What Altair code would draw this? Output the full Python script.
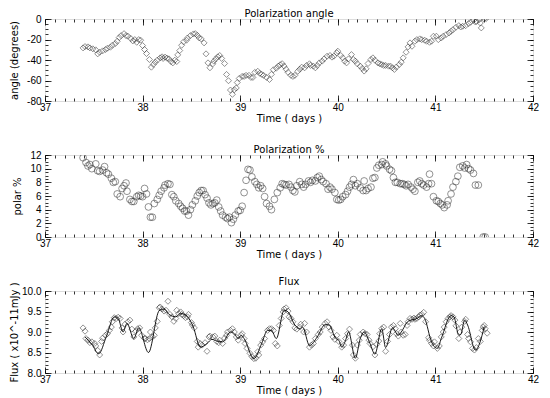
import altair as alt
import pandas as pd

FONT = "DejaVu Sans"
W, H = 488, 82

angle_t = [37.39, 37.41, 37.44, 37.46, 37.49, 37.52, 37.54, 37.56, 37.59, 37.62, 37.64, 37.67, 37.69, 37.72,
           37.74, 37.76, 37.78, 37.81, 37.83, 37.85, 37.88, 37.90, 37.92, 37.94, 37.96, 37.98, 38.00, 38.02,
           38.04, 38.07, 38.09, 38.11, 38.13, 38.15, 38.18, 38.20, 38.21, 38.23, 38.25, 38.27, 38.29, 38.31,
           38.33, 38.35, 38.36, 38.38, 38.40, 38.42, 38.45, 38.46, 38.49, 38.52, 38.54, 38.56, 38.58, 38.60,
           38.63, 38.65, 38.67, 38.69, 38.72, 38.73, 38.75, 38.77, 38.79, 38.81, 38.84, 38.86, 38.88, 38.90,
           38.92, 38.94, 38.96, 38.97, 38.99, 39.02, 39.04, 39.06, 39.09, 39.11, 39.13, 39.15, 39.18, 39.20,
           39.22, 39.24, 39.27, 39.30, 39.32, 39.34, 39.37, 39.39, 39.41, 39.43, 39.45, 39.47, 39.49, 39.52,
           39.54, 39.56, 39.59, 39.61, 39.63, 39.66, 39.68, 39.71, 39.72, 39.75, 39.77, 39.79, 39.81, 39.84,
           39.86, 39.89, 39.92, 39.94, 39.96, 39.99, 40.00, 40.03, 40.05, 40.07, 40.09, 40.11, 40.14, 40.16,
           40.18, 40.20, 40.23, 40.25, 40.27, 40.29, 40.31, 40.34, 40.36, 40.38, 40.41, 40.43, 40.45, 40.47,
           40.49, 40.52, 40.54, 40.56, 40.58, 40.60, 40.63, 40.65, 40.67, 40.70, 40.72, 40.74, 40.76, 40.79,
           40.81, 40.84, 40.86, 40.89, 40.91, 40.94, 40.96, 40.98, 41.01, 41.03, 41.06, 41.08, 41.11, 41.14,
           41.16, 41.18, 41.21, 41.24, 41.26, 41.28, 41.31, 41.34, 41.36, 41.39, 41.41, 41.42, 41.45, 41.46,
           41.47, 41.50, 41.52]
angle_v = [-28.2, -26.9, -27.2, -28.2, -29.1, -30.1, -34.0, -32.4, -31.1, -29.8, -28.5, -27.5, -25.6, -24.0,
           -21.7, -18.1, -16.2, -14.3, -16.2, -16.8, -19.1, -21.4, -20.1, -22.7, -20.1, -20.7, -25.9, -29.8,
           -33.7, -39.5, -47.0, -44.4, -42.1, -40.2, -37.9, -36.9, -38.5, -37.2, -38.2, -38.9, -41.5, -42.8,
           -40.2, -41.5, -35.0, -30.8, -25.6, -22.3, -20.7, -18.5, -16.2, -14.6, -14.3, -15.9, -18.5, -19.4,
           -23.3, -34.0, -42.8, -47.6, -43.7, -41.1, -38.9, -36.9, -35.6, -38.5, -43.4, -54.1, -60.2, -69.3,
           -73.5, -69.0, -67.3, -62.0, -58.0, -56.0, -56.0, -55.0, -55.0, -57.0, -57.0, -52.0, -51.0, -53.0,
           -54.0, -55.0, -57.0, -59.0, -54.0, -49.5, -48.0, -46.0, -44.6, -43.6, -46.0, -49.0, -52.0, -55.0,
           -56.0, -55.0, -51.0, -49.0, -47.0, -47.6, -45.3, -43.7, -45.3, -46.0, -47.6, -45.3, -42.8, -41.1,
           -38.9, -36.3, -35.6, -37.2, -36.3, -33.0, -31.4, -35.6, -37.9, -41.1, -42.8, -38.9, -34.7, -39.5,
           -41.1, -43.7, -46.0, -48.3, -50.8, -48.6, -43.4, -39.5, -37.9, -40.2, -42.8, -43.7, -44.4, -45.3,
           -45.3, -46.0, -46.0, -47.6, -49.2, -46.9, -44.4, -42.1, -37.9, -32.4, -27.2, -23.3, -26.6, -21.7,
           -20.1, -19.4, -20.1, -20.7, -21.7, -22.7, -21.7, -16.8, -16.8, -20.1, -18.5, -16.8, -15.2, -13.6,
           -12.0, -10.4, -8.1, -6.5, -7.8, -7.1, -6.5, -4.5, -3.2, -1.3, -2.9, -2.3, -0.6, -3.9,
           -8.7, 0.0, 0.5]

pol_t = [37.39, 37.42, 37.44, 37.46, 37.48, 37.52, 37.54, 37.56, 37.59, 37.61, 37.63, 37.65, 37.68, 37.70,
         37.72, 37.74, 37.77, 37.79, 37.81, 37.83, 37.84, 37.87, 37.89, 37.91, 37.94, 37.96, 37.98, 38.00,
         38.02, 38.04, 38.06, 38.08, 38.10, 38.12, 38.15, 38.17, 38.19, 38.22, 38.23, 38.26, 38.28, 38.30,
         38.32, 38.34, 38.37, 38.39, 38.41, 38.43, 38.45, 38.47, 38.49, 38.51, 38.54, 38.56, 38.58, 38.60,
         38.62, 38.64, 38.66, 38.68, 38.70, 38.72, 38.74, 38.76, 38.78, 38.80, 38.82, 38.85, 38.87, 38.89,
         38.91, 38.93, 38.95, 38.98, 39.00, 39.02, 39.04, 39.06, 39.08, 39.10, 39.12, 39.15, 39.17, 39.19,
         39.21, 39.23, 39.25, 39.27, 39.30, 39.32, 39.35, 39.38, 39.41, 39.43, 39.45, 39.47, 39.50, 39.52,
         39.54, 39.56, 39.58, 39.61, 39.63, 39.65, 39.67, 39.70, 39.72, 39.74, 39.77, 39.79, 39.81, 39.83,
         39.85, 39.88, 39.90, 39.92, 39.94, 39.97, 39.99, 40.01, 40.03, 40.05, 40.08, 40.10, 40.12, 40.14,
         40.16, 40.18, 40.20, 40.23, 40.26, 40.27, 40.29, 40.31, 40.34, 40.36, 40.38, 40.40, 40.42, 40.45,
         40.46, 40.49, 40.50, 40.53, 40.55, 40.57, 40.59, 40.61, 40.64, 40.66, 40.68, 40.70, 40.72, 40.75,
         40.77, 40.79, 40.82, 40.84, 40.86, 40.88, 40.91, 40.93, 40.94, 40.96, 40.98, 41.01, 41.03, 41.05,
         41.07, 41.09, 41.12, 41.13, 41.16, 41.18, 41.21, 41.23, 41.25, 41.28, 41.30, 41.32, 41.34, 41.36,
         41.39, 41.41, 41.44, 41.49, 41.51]
pol_v = [11.6, 10.9, 10.4, 10.6, 10.0, 10.7, 9.7, 9.6, 9.8, 10.3, 9.4, 9.2, 8.6, 8.0,
         8.1, 6.3, 5.9, 7.1, 7.5, 7.9, 6.7, 5.5, 5.2, 5.2, 5.9, 6.1, 6.0, 5.9,
         7.1, 6.3, 4.4, 2.9, 2.9, 4.9, 5.5, 6.1, 6.7, 7.2, 7.6, 7.8, 7.7, 6.2,
         5.9, 5.3, 4.9, 4.5, 4.2, 3.8, 3.8, 3.2, 4.0, 4.7, 5.3, 6.0, 6.5, 6.8,
         6.8, 6.2, 5.7, 5.0, 4.7, 4.9, 5.0, 5.4, 4.4, 3.8, 3.2, 2.9, 2.7, 2.9,
         2.1, 2.6, 3.2, 3.8, 3.9, 4.5, 6.5, 8.3, 9.9, 9.8, 8.8, 8.1, 7.7, 7.2,
         7.5, 7.1, 5.9, 4.9, 4.5, 4.0, 5.5, 6.5, 7.2, 7.8, 7.7, 7.6, 7.7, 7.3,
         6.8, 6.6, 7.5, 8.1, 7.7, 7.3, 7.7, 8.2, 8.0, 8.3, 8.2, 8.7, 8.9, 8.4,
         8.1, 7.8, 7.0, 7.3, 7.0, 6.5, 5.5, 5.4, 5.5, 5.9, 6.2, 6.7, 7.3, 7.7,
         8.4, 7.5, 7.8, 7.2, 6.8, 8.2, 6.8, 7.1, 7.3, 8.6, 8.7, 10.1, 10.5, 10.6,
         11.0, 10.7, 10.4, 9.9, 9.7, 8.7, 8.0, 8.0, 7.8, 7.8, 7.7, 7.5, 7.7, 7.3,
         7.0, 6.7, 8.0, 8.2, 7.8, 7.6, 7.3, 7.8, 9.2, 7.8, 5.9, 5.3, 5.2, 4.9,
         4.7, 4.3, 4.7, 5.3, 6.3, 7.3, 8.1, 8.9, 10.2, 10.4, 10.1, 10.6, 10.0, 9.8,
         9.3, 7.6, 7.6, 0.0, 0.0]

flux_t = [37.39, 37.41, 37.42, 37.44, 37.46, 37.48, 37.51, 37.52, 37.54, 37.56, 37.58, 37.59, 37.62, 37.64,
          37.66, 37.68, 37.69, 37.71, 37.73, 37.75, 37.77, 37.79, 37.80, 37.82, 37.85, 37.87, 37.89, 37.91,
          37.93, 37.95, 37.97, 37.99, 38.02, 38.03, 38.05, 38.07, 38.08, 38.10, 38.12, 38.13, 38.15, 38.17,
          38.18, 38.20, 38.22, 38.24, 38.26, 38.28, 38.30, 38.32, 38.34, 38.35, 38.37, 38.39, 38.40, 38.42,
          38.44, 38.46, 38.47, 38.50, 38.51, 38.53, 38.56, 38.57, 38.59, 38.61, 38.64, 38.66, 38.68, 38.69,
          38.72, 38.74, 38.76, 38.78, 38.79, 38.82, 38.84, 38.86, 38.87, 38.90, 38.92, 38.94, 38.96, 38.98,
          39.01, 39.02, 39.04, 39.05, 39.07, 39.10, 39.12, 39.14, 39.16, 39.18, 39.19, 39.21, 39.23, 39.25,
          39.28, 39.30, 39.32, 39.34, 39.36, 39.38, 39.40, 39.42, 39.44, 39.45, 39.47, 39.49, 39.50, 39.52,
          39.54, 39.56, 39.58, 39.61, 39.62, 39.65, 39.66, 39.68, 39.71, 39.73, 39.75, 39.77, 39.80, 39.82,
          39.84, 39.87, 39.89, 39.91, 39.93, 39.95, 39.97, 39.99, 40.01, 40.04, 40.06, 40.08, 40.10, 40.12,
          40.15, 40.16, 40.18, 40.20, 40.22, 40.23, 40.26, 40.28, 40.30, 40.32, 40.33, 40.36, 40.38, 40.40,
          40.42, 40.43, 40.45, 40.47, 40.49, 40.51, 40.53, 40.55, 40.57, 40.59, 40.60, 40.62, 40.64, 40.65,
          40.67, 40.69, 40.71, 40.72, 40.74, 40.76, 40.78, 40.79, 40.81, 40.83, 40.84, 40.86, 40.88, 40.90,
          40.93, 40.94, 40.96, 40.98, 40.99, 41.02, 41.04, 41.06, 41.08, 41.09, 41.11, 41.13, 41.15, 41.16,
          41.18, 41.20, 41.21, 41.24, 41.25, 41.27, 41.30, 41.31, 41.33, 41.34, 41.36, 41.38, 41.40, 41.42,
          41.44, 41.46, 41.48, 41.49, 41.50, 41.51, 41.53]
flux_v = [9.10, 9.02, 8.84, 8.80, 8.74, 8.76, 8.72, 8.66, 8.55, 8.44, 8.77, 8.85, 8.92, 8.96,
          9.04, 9.12, 9.25, 9.35, 9.33, 9.36, 9.33, 9.10, 9.00, 9.19, 9.25, 9.29, 9.07, 8.88,
          9.02, 9.08, 9.10, 8.92, 8.84, 8.84, 8.81, 8.84, 9.00, 8.88, 8.92, 9.10, 9.26, 9.59,
          9.61, 9.56, 9.51, 9.53, 9.75, 9.43, 9.37, 9.26, 9.33, 9.53, 9.45, 9.49, 9.43, 9.40,
          9.35, 9.37, 9.43, 9.23, 9.17, 9.10, 8.77, 8.63, 8.72, 8.68, 8.74, 8.53, 8.88, 8.90,
          8.88, 8.90, 8.77, 8.74, 8.80, 8.72, 8.85, 8.92, 9.00, 9.04, 9.08, 9.00, 8.88, 8.80,
          8.92, 8.96, 8.84, 8.72, 8.60, 8.48, 8.40, 8.35, 8.36, 8.52, 8.44, 8.68, 8.76, 8.84,
          9.04, 9.08, 9.08, 9.04, 8.72, 8.66, 9.16, 9.33, 9.49, 9.56, 9.59, 9.51, 9.37, 9.33,
          9.25, 9.10, 9.07, 9.12, 9.19, 9.00, 9.21, 9.00, 8.63, 8.68, 8.72, 8.84, 8.94, 9.00,
          9.12, 9.21, 9.25, 9.12, 9.04, 8.88, 8.82, 8.92, 8.77, 8.63, 8.68, 8.84, 8.96, 9.07,
          8.68, 8.44, 8.36, 8.68, 8.80, 8.94, 9.00, 8.96, 8.94, 8.80, 8.72, 8.64, 8.44, 8.70,
          8.78, 8.96, 9.08, 9.12, 8.53, 8.77, 8.94, 9.12, 9.16, 9.08, 8.96, 8.90, 9.21, 9.00,
          8.92, 8.94, 9.16, 9.25, 9.33, 9.31, 9.34, 9.31, 9.33, 9.37, 9.41, 9.43, 9.48, 9.25,
          8.86, 8.80, 8.72, 8.66, 8.76, 8.60, 8.66, 8.88, 9.00, 9.12, 9.25, 9.33, 9.37, 9.40,
          9.37, 9.29, 9.15, 8.84, 9.00, 9.12, 9.26, 9.31, 8.94, 8.84, 8.76, 8.60, 8.56, 8.62,
          8.84, 8.77, 9.04, 9.12, 9.16, 9.08, 8.97]

fit_t = [37.41, 37.48, 37.55, 37.63, 37.71, 37.75, 37.80, 37.84, 37.91, 37.96, 38.06, 38.17, 38.22, 38.27,
         38.34, 38.39, 38.46, 38.52, 38.59, 38.66, 38.71, 38.76, 38.82, 38.90, 38.94, 38.98, 39.01, 39.04,
         39.14, 39.22, 39.28, 39.32, 39.37, 39.45, 39.49, 39.56, 39.61, 39.64, 39.71, 39.79, 39.87, 39.91,
         39.98, 40.01, 40.04, 40.08, 40.11, 40.18, 40.23, 40.27, 40.33, 40.38, 40.45, 40.49, 40.56, 40.62,
         40.65, 40.72, 40.81, 40.86, 40.89, 40.96, 41.02, 41.06, 41.16, 41.19, 41.24, 41.26, 41.30, 41.33,
         41.41, 41.50]
fit_v = [8.88, 8.70, 8.47, 8.90, 9.37, 9.33, 9.00, 9.21, 8.84, 9.10, 8.50, 9.52, 9.56, 9.43,
         9.37, 9.45, 9.37, 9.12, 8.63, 8.72, 8.82, 8.78, 8.76, 9.00, 8.96, 8.84, 8.92, 8.84,
         8.35, 8.72, 9.04, 9.04, 8.84, 9.53, 9.49, 9.17, 9.08, 9.12, 8.67, 8.88, 9.18, 9.17,
         8.84, 8.80, 8.63, 8.80, 9.00, 8.36, 8.84, 9.00, 8.72, 8.46, 9.08, 8.62, 9.10, 8.92,
         9.00, 9.26, 9.33, 9.40, 9.33, 8.76, 8.60, 8.84, 9.40, 9.37, 8.92, 8.94, 9.29, 9.17,
         8.56, 9.12]

x_major = [37, 38, 39, 40, 41, 42]
x_minor = [round(37 + 0.1 * i, 1) for i in range(51)]

MINUS_FIX = "replace(datum.label, '\u2212', '-')"


def panel(df, ydom, ymajor, yminor, ytitle, title_x, title, shape, size, fmt, fit=None):
    xs = alt.Scale(domain=[37, 42], nice=False, zero=False)
    ys = alt.Scale(domain=ydom, nice=False, zero=False)
    base = alt.Chart(df)
    pts = base.mark_point(shape=shape, size=size, filled=False, color="#222222",
                          strokeWidth=0.7, clip=True).encode(
        x=alt.X("t:Q", scale=xs,
                axis=alt.Axis(orient="bottom", values=x_major, ticks=False, tickSize=0,
                              domain=False, grid=False, labelPadding=1, labelFlush=False,
                              format="d", title="Time ( days )", titlePadding=1,
                              titleFontWeight="normal", titleFontSize=10, titleFont=FONT)),
        y=alt.Y("v:Q", scale=ys,
                axis=alt.Axis(orient="left", values=ymajor, ticks=False, tickSize=0,
                              domain=False, grid=False, labelPadding=4, format=fmt,
                              labelExpr=MINUS_FIX, title=ytitle, titleX=title_x,
                              titleBaseline="bottom", titleFontWeight="normal",
                              titleFontSize=10, titleFont=FONT)),
    )
    layers = [pts]
    if fit is not None:
        layers.append(alt.Chart(fit).mark_line(color="black", strokeWidth=0.9,
                                               interpolate="monotone", clip=True).encode(
            x=alt.X("t:Q", scale=xs, axis=None),
            y=alt.Y("v:Q", scale=ys, axis=None)))

    def xticks(orient, vals, size):
        return base.mark_point(opacity=0, clip=True).encode(
            x=alt.X("t:Q", scale=xs,
                    axis=alt.Axis(orient=orient, offset=-H, values=vals, ticks=True, tickSize=size,
                                  tickColor="black", tickWidth=0.8, labels=False, domain=False,
                                  grid=False, title=None)),
            y=alt.Y("v:Q", scale=ys, axis=None))

    def yticks(orient, vals, size):
        return base.mark_point(opacity=0, clip=True).encode(
            x=alt.X("t:Q", scale=xs, axis=None),
            y=alt.Y("v:Q", scale=ys,
                    axis=alt.Axis(orient=orient, offset=-W, values=vals, ticks=True, tickSize=size,
                                  tickColor="black", tickWidth=0.8, labels=False, domain=False,
                                  grid=False, title=None)))

    layers += [xticks("top", x_major, 6), xticks("top", x_minor, 3),
               xticks("bottom", x_major, 6), xticks("bottom", x_minor, 3),
               yticks("right", ymajor, 6), yticks("right", yminor, 3),
               yticks("left", ymajor, 6), yticks("left", yminor, 3)]
    return alt.layer(*layers).resolve_axis(x="independent", y="independent").properties(
        width=W, height=H,
        title=alt.TitleParams(title, fontSize=10, font=FONT, fontWeight="normal", offset=-5,
                              anchor="middle", color="black"))


angle_df = pd.DataFrame({"t": angle_t, "v": angle_v})
pol_df = pd.DataFrame({"t": pol_t, "v": pol_v})
flux_df = pd.DataFrame({"t": flux_t, "v": flux_v})
fit_df = pd.DataFrame({"t": fit_t, "v": fit_v})

p1 = panel(angle_df, [-80, 0], [-80, -60, -40, -20, 0], list(range(-80, 1, 5)),
           "angle (degrees)", -26, "Polarization angle", "diamond", 36, "d")
p2 = panel(pol_df, [0, 12], [0, 2, 4, 6, 8, 10, 12], [x * 0.5 for x in range(25)],
           "polar %", -23, "Polarization %", "circle", 46, "d")
p3 = panel(flux_df, [8, 10], [8.0, 8.5, 9.0, 9.5, 10.0], [round(8 + 0.1 * i, 1) for i in range(21)],
           "Flux ( x10^-11mJy )", -26, "Flux", "diamond", 36, ".1f", fit=fit_df)

chart = alt.vconcat(p1, p2, p3, spacing=54, bounds="flush").properties(
    padding={"left": 0, "top": 0, "right": 0, "bottom": 0}
).configure_view(stroke="black", strokeWidth=0.8).configure_axis(
    labelFont=FONT, labelFontSize=9.5, labelColor="black",
    titleFont=FONT, titleFontSize=10, titleFontWeight="normal", titleColor="black"
).configure(background="white")

chart.save("out.html", embed_options={"renderer": "svg", "actions": False})
